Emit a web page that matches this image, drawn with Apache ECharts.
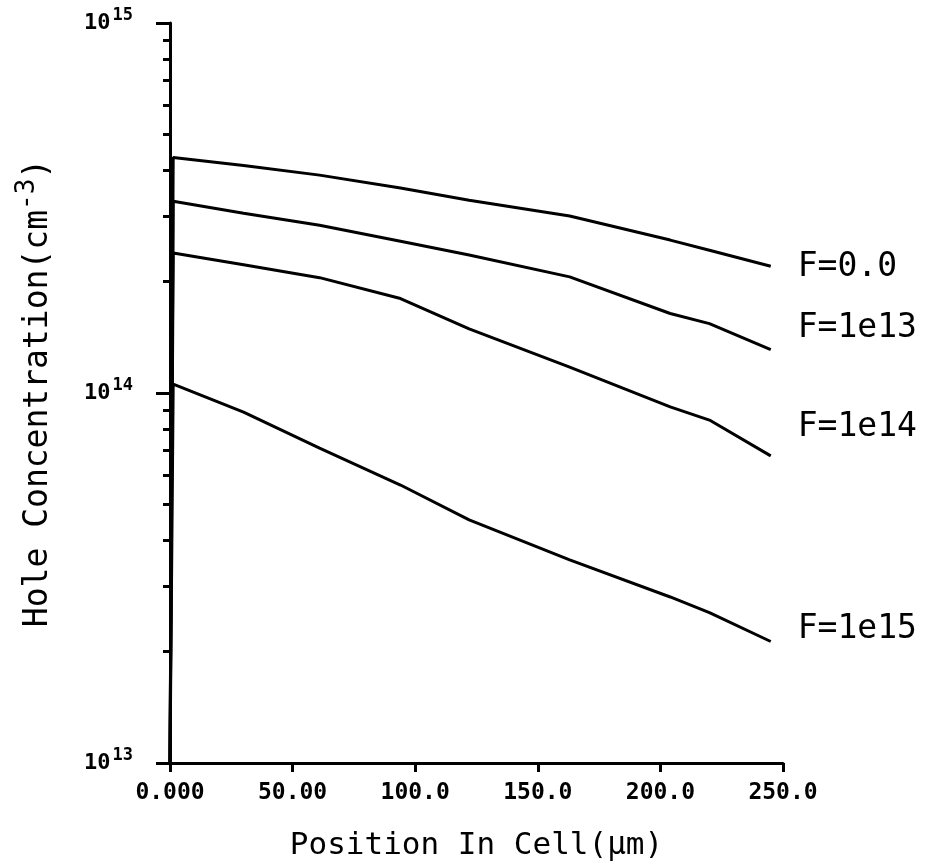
<!DOCTYPE html>
<html>
<head>
<meta charset="utf-8">
<script src="https://cdn.jsdelivr.net/npm/echarts@6/dist/echarts.min.js"></script>
<style>
  html, body { margin: 0; padding: 0; background: #fff; }
  #chart { width: 933px; height: 867px; }
</style>
</head>
<body>
<div id="chart"></div>
<script>
// position in cell (um)
var positions = [0, 1.3, 30, 61, 94, 122, 163, 204, 220, 245];
// hole concentration (cm^-3) per fluence
var fZero = [1e13, 4.33e14, 4.12e14, 3.88e14, 3.58e14, 3.32e14, 3.01e14, 2.59e14, 2.43e14, 2.20e14];
var f1e13 = [1e13, 3.30e14, 3.06e14, 2.84e14, 2.57e14, 2.36e14, 2.06e14, 1.64e14, 1.54e14, 1.31e14];
var f1e14 = [1e13, 2.39e14, 2.22e14, 2.05e14, 1.80e14, 1.49e14, 1.175e14, 9.17e13, 8.45e13, 6.76e13];
var f1e15 = [1e13, 1.057e14, 8.88e13, 7.10e13, 5.64e13, 4.54e13, 3.54e13, 2.81e13, 2.55e13, 2.13e13];
var seriesNames = ['F=0.0', 'F=1e13', 'F=1e14', 'F=1e15'];
var xTickLabels = ['0.000', '50.00', '100.0', '150.0', '200.0', '250.0'];
var yTickExps = { 13: '13', 14: '14', 15: '15' };
var minorTickValues = [];
[13, 14].forEach(function (d) {
  for (var k = 2; k <= 9; k++) minorTickValues.push(k * Math.pow(10, d));
});

var font = 'DejaVu Sans Mono';
var chart = echarts.init(document.getElementById('chart'));

function pairs(vals) {
  return positions.map(function (x, i) { return [x, vals[i]]; });
}

// label offsets for the curve names on the right
var labelOffsets = [[0, 1], [0, -21], [0, -28], [0, -12]];

var allData = [fZero, f1e13, f1e14, f1e15];
var series = allData.map(function (vals, i) {
  return {
    name: seriesNames[i],
    type: 'line',
    data: pairs(vals),
    showSymbol: false,
    lineStyle: { color: '#000', width: 3 },
    itemStyle: { color: '#000' },
    emphasis: { disabled: true },
    clip: false,
    endLabel: {
      show: true,
      formatter: seriesNames[i],
      fontFamily: font,
      fontSize: 33,
      color: '#000',
      distance: 27,
      offset: labelOffsets[i]
    }
  };
});

var option = {
  backgroundColor: '#fff',
  animation: false,
  grid: { left: 170, right: 150, top: 23, bottom: 104 },
  xAxis: {
    type: 'value',
    min: 0,
    max: 250,
    interval: 50,
    name: 'Position In Cell(\u03bcm)',
    nameLocation: 'middle',
    nameGap: 67,
    nameTextStyle: { fontFamily: font, fontSize: 31, color: '#000' },
    axisLine: { onZero: false, lineStyle: { color: '#000', width: 3 } },
    axisTick: { show: true, length: 9, lineStyle: { color: '#000', width: 3 } },
    axisLabel: {
      margin: 19,
      fontFamily: font,
      fontWeight: 'bold',
      fontSize: 23,
      color: '#000',
      formatter: function (v) { return xTickLabels[Math.round(v / 50)]; }
    },
    splitLine: { show: false }
  },
  yAxis: [{
    type: 'log',
    logBase: 10,
    min: 1e13,
    max: 1e15,
    name: 'Hole Concentration(cm{sup|-3})',
    nameLocation: 'middle',
    nameGap: 108,
    nameRotate: 90,
    nameTextStyle: {
      fontFamily: font, fontSize: 33, color: '#000',
      rich: { sup: { fontFamily: font, fontSize: 26, color: '#000', padding: [0, 0, 22, 0] } }
    },
    axisLine: { show: true, lineStyle: { color: '#000', width: 3 } },
    axisTick: { show: true, length: 14, lineStyle: { color: '#000', width: 3 } },
    axisLabel: {
      margin: 37,
      color: '#000',
      formatter: function (v) {
        var e = Math.round(Math.log10(v));
        return '{b|10}{s|' + yTickExps[e] + '}';
      },
      rich: {
        b: { fontFamily: font, fontWeight: 'bold', fontSize: 22, color: '#000' },
        s: { fontFamily: font, fontWeight: 'bold', fontSize: 17, color: '#000', padding: [0, 0, 14, 2] }
      }
    },
    splitLine: { show: false }
  }, {
    type: 'log',
    logBase: 10,
    min: 1e13,
    max: 1e15,
    position: 'left',
    axisLine: { show: false },
    axisTick: { show: true, length: 7, customValues: minorTickValues, lineStyle: { color: '#000', width: 3 } },
    axisLabel: { show: false },
    splitLine: { show: false }
  }],
  series: series
};

chart.setOption(option);
</script>
</body>
</html>
